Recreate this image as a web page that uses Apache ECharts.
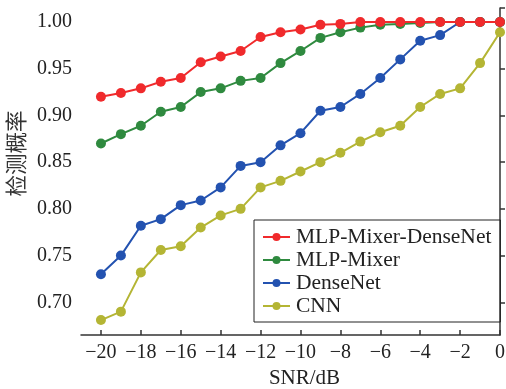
<!DOCTYPE html>
<html>
<head>
<meta charset="utf-8">
<script src="https://cdn.jsdelivr.net/npm/echarts@6/dist/echarts.min.js"></script>
<style>
html,body{margin:0;padding:0;background:#fff;}
#chart{width:506px;height:389px;}
</style>
</head>
<body>
<div id="chart"></div>
<script>
// 数据
var snr = [-20, -19, -18, -17, -16, -15, -14, -13, -12, -11, -10, -9, -8, -7, -6, -5, -4, -3, -2, -1, 0];
var mlpMixerDenseNet = [0.920, 0.924, 0.929, 0.936, 0.940, 0.957, 0.963, 0.969, 0.984, 0.989, 0.992, 0.997, 0.998, 1.000, 1.000, 1.000, 1.000, 1.000, 1.000, 1.000, 1.000];
var mlpMixer = [0.870, 0.880, 0.889, 0.904, 0.909, 0.925, 0.929, 0.937, 0.940, 0.956, 0.969, 0.983, 0.989, 0.994, 0.997, 0.998, 0.999, 1.000, 1.000, 1.000, 1.000];
var denseNet = [0.730, 0.750, 0.782, 0.789, 0.804, 0.809, 0.823, 0.846, 0.850, 0.868, 0.881, 0.905, 0.909, 0.923, 0.940, 0.960, 0.980, 0.986, 1.000, 1.000, 1.000];
var cnn = [0.681, 0.690, 0.732, 0.756, 0.760, 0.780, 0.793, 0.800, 0.823, 0.830, 0.840, 0.850, 0.860, 0.872, 0.882, 0.889, 0.909, 0.923, 0.929, 0.956, 0.989];
var xTicks = [-20, -18, -16, -14, -12, -10, -8, -6, -4, -2, 0];
var yTicks = [0.70, 0.75, 0.80, 0.85, 0.90, 0.95, 1.00];

var names = ['MLP-Mixer-DenseNet', 'MLP-Mixer', 'DenseNet', 'CNN'];
var colors = ['#f02a2c', '#2f8a3f', '#2352b0', '#b4b534'];
var seriesData = [mlpMixerDenseNet, mlpMixer, denseNet, cnn];

var serif = '"Liberation Serif", "DejaVu Serif", serif';

function pairs(vals){
	var out = [];
	for(var i=0;i<snr.length;i++){
		out.push([snr[i], vals[i]]);
	}
	return out;
}

var series = [];
for(var i=0;i<names.length;i++){
	series.push({
		name : names[i],
		type : 'line',
		data : pairs(seriesData[i]),
		symbol : 'circle',
		symbolSize : 10,
		lineStyle : {width : 2, color : colors[i]},
		itemStyle : {color : colors[i]},
		z : 10 - i
	});
}

var myEchart = echarts.init(document.getElementById('chart'), null, {renderer : 'canvas'});

var option = {
	animation : false,
	color : colors,
	grid : {left : 81, right : 6, top : 8, bottom : 54, outerBoundsMode : 'none', containLabel : false},
	legend : {
		data : names,
		orient : 'vertical',
		left : 254,
		top : 220,
		padding : [6, 9, 5, 8],
		itemGap : 1,
		itemWidth : 27,
		itemHeight : 10,
		borderColor : '#222',
		borderWidth : 1,
		textStyle : {fontFamily : serif, fontSize : 21.5, color : '#222', padding : [0, 0, 0, 1]}
	},
	xAxis : {
		type : 'value',
		min : -21,
		max : 0,
		name : 'SNR/dB',
		nameLocation : 'middle',
		nameGap : 33,
		nameTextStyle : {fontFamily : serif, fontSize : 21, color : '#222', padding : [0, 0, 0, 28]},
		splitLine : {show : false},
		axisLine : {lineStyle : {color : '#333', width : 1.5}},
		axisTick : {show : true, inside : true, length : 5, customValues : xTicks, lineStyle : {color : '#333', width : 1.5}},
		axisLabel : {
			customValues : xTicks,
			margin : 8,
			fontFamily : serif,
			fontSize : 20,
			color : '#222',
			formatter : function(v){ return String(v).replace('-', '\u2212'); }
		}
	},
	yAxis : {
		type : 'value',
		min : 0.665,
		max : 1.015,
		name : '检测概率',
		nameLocation : 'middle',
		nameGap : 51,
		nameTextStyle : {fontFamily : '"Noto Sans CJK SC", sans-serif', fontSize : 21.5, color : '#333', padding : [0, 0, 0, 36]},
		splitLine : {show : false},
		axisLine : {show : true, lineStyle : {color : '#333', width : 1.5}},
		axisTick : {show : true, inside : true, length : 5, customValues : yTicks.concat([1.015]), lineStyle : {color : '#333', width : 1.5}},
		axisLabel : {
			customValues : yTicks,
			margin : 9,
			fontFamily : serif,
			fontSize : 20,
			color : '#222',
			formatter : function(v){ return v.toFixed(2); }
		}
	},
	series : series
};

myEchart.setOption(option);
</script>
</body>
</html>
